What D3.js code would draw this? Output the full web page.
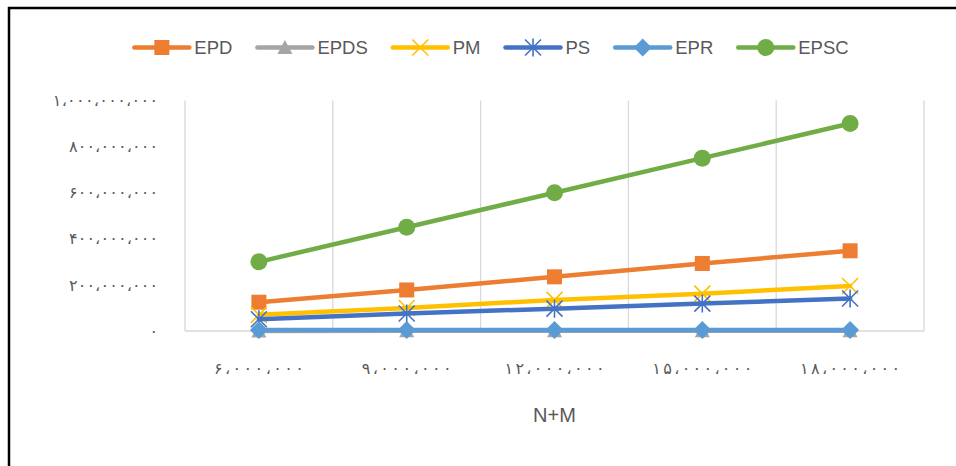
<!DOCTYPE html>
<html>
<head>
<meta charset="utf-8">
<script src="https://cdn.jsdelivr.net/npm/d3@7"></script>
<style>
  html, body { margin: 0; padding: 0; background: #fff; }
  svg { display: block; }
</style>
</head>
<body>
<script>
// ---- data ----
const categories = [6000000, 9000000, 12000000, 15000000, 18000000];
const yTicks = [0, 200000000, 400000000, 600000000, 800000000, 1000000000];
const seriesNames = ["EPD", "EPDS", "PM", "PS", "EPR", "EPSC"];
const EPD  = [125000000, 178000000, 235000000, 293000000, 348000000];
const EPDS = [500000, 600000, 700000, 800000, 900000];
const PM   = [70000000, 100000000, 135000000, 162000000, 195000000];
const PS   = [51000000, 76000000, 97000000, 119000000, 141000000];
const EPR  = [4000000, 4000000, 4000000, 4000000, 4000000];
const EPSC = [300000000, 450000000, 600000000, 750000000, 900000000];
const xTitle = "N+M";

// ---- styling ----
const W = 956, H = 466;
const colors = { EPD: "#ED7D31", EPDS: "#A5A5A5", PM: "#FFC000", PS: "#4472C4", EPR: "#5B9BD5", EPSC: "#70AD47" };
const markers = { EPD: "square", EPDS: "triangle", PM: "x", PS: "star", EPR: "diamond", EPSC: "circle" };
const valuesBy = { EPD, EPDS, PM, PS, EPR, EPSC };
const textColor = "#595959";
const gridColor = "#D9D9D9";

const svg = d3.select("body").append("svg").attr("width", W).attr("height", H);
svg.append("rect").attr("width", W).attr("height", H).attr("fill", "#fff");
// frame (left & top visible)
svg.append("rect").attr("x", 9).attr("y", 8).attr("width", W + 20).attr("height", H + 20)
  .attr("fill", "none").attr("stroke", "#000").attr("stroke-width", 2.5);

const plot = { left: 185, right: 924, top: 100.5, bottom: 331 };
const x = d3.scaleBand().domain(categories).range([plot.left, plot.right]);
const y = d3.scaleLinear().domain([0, 1000000000]).range([plot.bottom, plot.top]);

// persian (extended arabic-indic) digit formatting
const faDigits = "۰۱۲۳۴۵۶۷۸۹";
const fmtFa = v => d3.format(",")(v).replace(/[0-9]/g, d => faDigits[+d]).replace(/,/g, "،");

// vertical gridlines at category boundaries
const bounds = categories.map(c => x(c)).concat([x(categories[categories.length - 1]) + x.bandwidth()]);
svg.append("g").selectAll("line").data(bounds).join("line")
  .attr("x1", d => d).attr("x2", d => d)
  .attr("y1", plot.top).attr("y2", plot.bottom)
  .attr("stroke", gridColor).attr("stroke-width", 1.3);
// baseline
svg.append("line").attr("x1", plot.left).attr("x2", plot.right)
  .attr("y1", y(0)).attr("y2", y(0))
  .attr("stroke", gridColor).attr("stroke-width", 1.6);

// y axis labels
const yAxis = d3.axisLeft(y).tickValues(yTicks).tickFormat(fmtFa).tickSize(0).tickPadding(0);
const gy = svg.append("g").attr("transform", `translate(${plot.left - 27},0)`).call(yAxis);
gy.select(".domain").remove();
gy.selectAll("text")
  .attr("font-family", "'DejaVu Sans', sans-serif").attr("font-size", 16)
  .attr("fill", textColor)
  .each(function () {
    const s = d3.select(this).text();
    if (s.length > 1) d3.select(this).attr("textLength", s.length * 8.1).attr("lengthAdjust", "spacing");
  });

// x axis labels
const xAxis = d3.axisBottom(x).tickFormat(fmtFa).tickSize(0).tickPadding(0);
const gx = svg.append("g").attr("transform", `translate(0,${plot.bottom + 37})`).call(xAxis);
gx.select(".domain").remove();
gx.selectAll("text")
  .attr("font-family", "'DejaVu Sans', sans-serif").attr("font-size", 16)
  .attr("fill", textColor).attr("dy", "0.35em").attr("y", 0)
  .each(function () {
    const s = d3.select(this).text();
    d3.select(this).attr("textLength", s.length * 10).attr("lengthAdjust", "spacing");
  });

// x title
svg.append("text").attr("x", (plot.left + plot.right) / 2).attr("y", 422)
  .attr("text-anchor", "middle").attr("font-family", "'Liberation Sans', Arial, sans-serif")
  .attr("font-size", 20).attr("fill", textColor).text(xTitle);

// marker drawing
function drawMarker(g, type, color, cx, cy) {
  const s = 8;
  if (type === "square") {
    g.append("rect").attr("x", cx - 7.5).attr("y", cy - 7.5).attr("width", 15).attr("height", 15).attr("fill", color);
  } else if (type === "triangle") {
    g.append("path").attr("d", `M${cx},${cy - 7.5}L${cx + 7.5},${cy + 6.5}L${cx - 7.5},${cy + 6.5}Z`).attr("fill", color);
  } else if (type === "diamond") {
    g.append("path").attr("d", `M${cx},${cy - 9}L${cx + 9},${cy}L${cx},${cy + 9}L${cx - 9},${cy}Z`).attr("fill", color);
  } else if (type === "circle") {
    g.append("circle").attr("cx", cx).attr("cy", cy).attr("r", 8.5).attr("fill", color);
  } else if (type === "x") {
    g.append("path").attr("d", `M${cx - s},${cy - s}L${cx + s},${cy + s}M${cx + s},${cy - s}L${cx - s},${cy + s}`)
      .attr("stroke", color).attr("stroke-width", 1.6).attr("fill", "none");
  } else if (type === "star") {
    g.append("path").attr("d", `M${cx - s},${cy - s}L${cx + s},${cy + s}M${cx + s},${cy - s}L${cx - s},${cy + s}M${cx},${cy - s - 1}L${cx},${cy + s + 1}`)
      .attr("stroke", color).attr("stroke-width", 1.6).attr("fill", "none");
  }
}

// series
const cx = c => x(c) + x.bandwidth() / 2;
const line = d3.line().x((d, i) => cx(categories[i])).y(d => y(d));
seriesNames.forEach(name => {
  const g = svg.append("g");
  g.append("path").datum(valuesBy[name]).attr("d", line)
    .attr("fill", "none").attr("stroke", colors[name]).attr("stroke-width", 4.5)
    .attr("stroke-linejoin", "round").attr("stroke-linecap", "round");
  valuesBy[name].forEach((v, i) => drawMarker(g, markers[name], colors[name], cx(categories[i]), y(v)));
});

// legend
const legend = svg.append("g");
let lx = 0;
const legY = 47.5;
seriesNames.forEach(name => {
  const g = legend.append("g");
  g.append("line").attr("x1", lx).attr("x2", lx + 55).attr("y1", legY).attr("y2", legY)
    .attr("stroke", colors[name]).attr("stroke-width", 4.5).attr("stroke-linecap", "round");
  drawMarker(g, markers[name], colors[name], lx + 27.5, legY);
  const t = g.append("text").attr("x", lx + 60).attr("y", legY).attr("dy", "0.36em")
    .attr("font-family", "'Liberation Sans', Arial, sans-serif").attr("font-size", 18.5)
    .attr("fill", textColor).text(name);
  lx += 60 + t.node().getComputedTextLength() + 25;
});
const legW = lx - 25;
legend.attr("transform", `translate(${491.5 - legW / 2},0)`);
</script>
</body>
</html>
